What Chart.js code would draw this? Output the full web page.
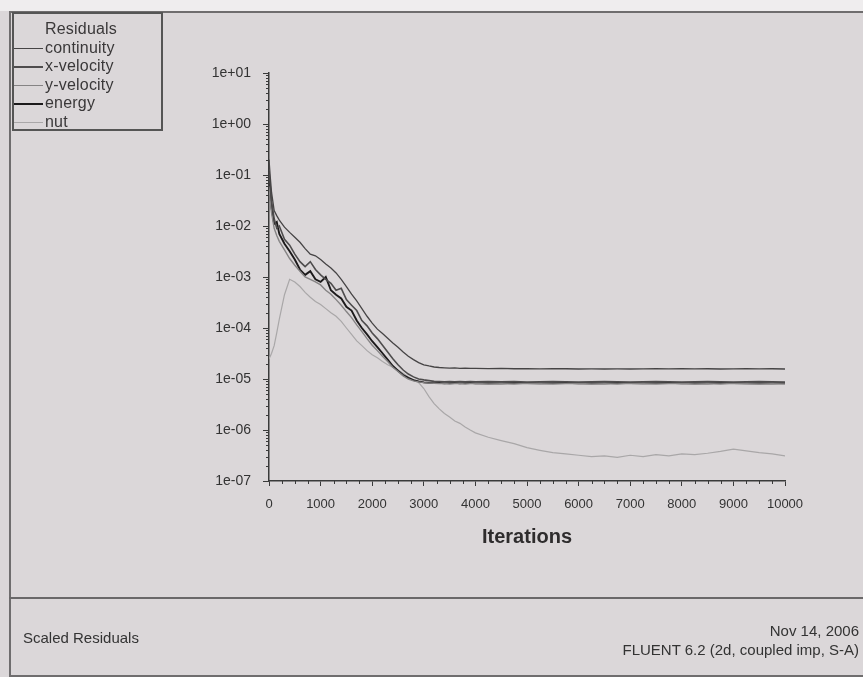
<!DOCTYPE html>
<html>
<head>
<meta charset="utf-8">
<title>Scaled Residuals</title>
<script src="https://cdn.jsdelivr.net/npm/chart.js@4.4.1/dist/chart.umd.min.js"></script>
<style>
  html, body { margin: 0; padding: 0; }
  body { width: 863px; height: 677px; overflow: hidden; background: #dbd7d9;
         font-family: "Liberation Sans", Arial, sans-serif; color: #333; }
  #page { position: relative; width: 863px; height: 677px; }
  #topStrip { position: absolute; left: 0; top: 0; width: 863px; height: 11px; background: #efedee; }
  #mainFrame { position: absolute; left: 9px; top: 11px; width: 854px; height: 666px;
               border-top: 2px solid #6f6d6e; border-left: 2px solid #6f6d6e;
               border-bottom: 2px solid #6f6d6e; box-sizing: border-box; }
  #divider { position: absolute; left: 9px; top: 597px; width: 854px; height: 2px; background: #6a6869; }
  canvas { position: absolute; left: 0; top: 0; }
  #legend { position: absolute; left: 12px; top: 12px; width: 151px; height: 119px;
            border: 2px solid #555; box-sizing: border-box; font-size: 16px; line-height: 18px;
            letter-spacing: 0.2px; color: #3a3839; }
  #legend .title { position: absolute; left: 31px; top: 6px; white-space: nowrap; }
  #legend .row { position: absolute; left: 0; width: 140px; height: 18px; }
  #legend .row span.ln { position: absolute; left: 0; top: 9px; width: 29px; height: 1.5px; }
  #legend .row span.tx { position: absolute; left: 31px; top: 0; white-space: nowrap; }
  #xTitle { position: absolute; left: 377px; width: 300px; top: 525px; text-align: center;
            font-weight: bold; font-size: 20px; color: #2e2c2d; }
  .foot { position: absolute; font-size: 15px; line-height: 18px; color: #333; white-space: nowrap; }
</style>
</head>
<body>
<div id="page">
  <div id="topStrip"></div>
  <div id="mainFrame"></div>
  <div id="divider"></div>
  <canvas id="residualsChart" width="863" height="677"></canvas>
  <div id="legend"><div class="title">Residuals</div></div>
  <div id="xTitle">Iterations</div>
  <div class="foot" style="left:23px; top:629px;">Scaled Residuals</div>
  <div class="foot" style="right:4px; top:622px; text-align:right;">Nov 14, 2006</div>
  <div class="foot" style="right:4px; top:641px; text-align:right;">FLUENT 6.2 (2d, coupled imp, S-A)</div>
</div>
<script>
// iteration numbers the residuals were read at
const iterations = [
  0, 25, 50, 100, 150, 200, 300, 400, 500, 600,
  700, 800, 900, 1000, 1100, 1200, 1300, 1400, 1500, 1600,
  1700, 1800, 1900, 2000, 2100, 2200, 2300, 2400, 2500, 2600,
  2700, 2800, 2900, 3000, 3100, 3200, 3300, 3400, 3500, 3600,
  3700, 3800, 3900, 4000, 4250, 4500, 4750, 5000, 5250, 5500,
  5750, 6000, 6250, 6500, 6750, 7000, 7250, 7500, 7750, 8000,
  8250, 8500, 8750, 9000, 9250, 9500, 9750, 10000
];

const continuity = [
  2.0e-1, 9.0e-2, 4.5e-2, 2.0e-2, 1.6e-2, 1.3e-2, 9.5e-3, 7.5e-3, 6.0e-3, 4.8e-3,
  3.6e-3, 2.8e-3, 2.6e-3, 2.2e-3, 1.8e-3, 1.5e-3, 1.2e-3, 9.0e-4, 6.5e-4, 4.6e-4,
  3.4e-4, 2.4e-4, 1.7e-4, 1.25e-4, 9.5e-5, 7.8e-5, 6.3e-5, 5.1e-5, 4.2e-5, 3.4e-5,
  2.8e-5, 2.4e-5, 2.1e-5, 1.9e-5, 1.8e-5, 1.72e-5, 1.68e-5, 1.66e-5, 1.64e-5, 1.65e-5,
  1.62e-5, 1.63e-5, 1.61e-5, 1.62e-5, 1.6e-5, 1.61e-5, 1.59e-5, 1.6e-5, 1.58e-5, 1.6e-5,
  1.59e-5, 1.57e-5, 1.58e-5, 1.57e-5, 1.58e-5, 1.57e-5, 1.58e-5, 1.59e-5, 1.58e-5, 1.6e-5,
  1.58e-5, 1.59e-5, 1.57e-5, 1.58e-5, 1.6e-5, 1.58e-5, 1.59e-5, 1.57e-5
];

const xVelocity = [
  1.2e-1, 6.0e-2, 3.0e-2, 1.4e-2, 9.0e-3, 1.0e-2, 5.5e-3, 4.2e-3, 2.8e-3, 2.0e-3,
  1.6e-3, 2.0e-3, 1.4e-3, 1.1e-3, 9.0e-4, 7.5e-4, 5.5e-4, 6.0e-4, 3.6e-4, 2.8e-4,
  2.2e-4, 1.4e-4, 1.1e-4, 8.0e-5, 6.2e-5, 4.6e-5, 3.4e-5, 2.5e-5, 1.9e-5, 1.5e-5,
  1.25e-5, 1.1e-5, 1.0e-5, 9.6e-6, 9.3e-6, 9.0e-6, 8.9e-6, 8.8e-6, 8.9e-6, 8.8e-6,
  8.9e-6, 8.8e-6, 8.9e-6, 8.8e-6, 8.9e-6, 8.8e-6, 8.9e-6, 8.7e-6, 8.8e-6, 8.9e-6,
  8.8e-6, 8.7e-6, 8.8e-6, 8.9e-6, 8.8e-6, 8.7e-6, 8.8e-6, 8.9e-6, 8.8e-6, 8.7e-6,
  8.8e-6, 8.9e-6, 8.8e-6, 8.7e-6, 8.8e-6, 8.9e-6, 8.8e-6, 8.7e-6
];

const yVelocity = [
  6.0e-2, 3.0e-2, 1.8e-2, 9.0e-3, 6.5e-3, 5.0e-3, 3.4e-3, 2.3e-3, 1.7e-3, 1.3e-3,
  1.0e-3, 9.0e-4, 8.0e-4, 7.0e-4, 5.5e-4, 4.6e-4, 3.6e-4, 2.8e-4, 2.1e-4, 1.6e-4,
  1.15e-4, 8.5e-5, 6.2e-5, 4.6e-5, 3.6e-5, 2.8e-5, 2.2e-5, 1.7e-5, 1.4e-5, 1.15e-5,
  1.0e-5, 9.2e-6, 8.8e-6, 8.5e-6, 8.3e-6, 8.2e-6, 8.1e-6, 8.2e-6, 8.0e-6, 8.1e-6,
  8.2e-6, 8.0e-6, 8.1e-6, 8.2e-6, 8.0e-6, 8.1e-6, 8.0e-6, 8.2e-6, 8.1e-6, 8.0e-6,
  8.1e-6, 8.2e-6, 8.0e-6, 8.1e-6, 8.0e-6, 8.2e-6, 8.1e-6, 8.0e-6, 8.1e-6, 8.2e-6,
  8.0e-6, 8.1e-6, 8.0e-6, 8.2e-6, 8.1e-6, 8.0e-6, 8.1e-6, 8.0e-6
];

const energy = [
  8.0e-2, 4.0e-2, 2.2e-2, 1.1e-2, 1.2e-2, 7.0e-3, 4.5e-3, 3.2e-3, 2.2e-3, 1.4e-3,
  1.1e-3, 1.3e-3, 9.0e-4, 8.0e-4, 1.0e-3, 5.5e-4, 4.5e-4, 3.8e-4, 2.6e-4, 2.2e-4,
  1.4e-4, 1.0e-4, 7.5e-5, 5.5e-5, 4.2e-5, 3.2e-5, 2.4e-5, 1.8e-5, 1.45e-5, 1.2e-5,
  1.05e-5, 9.5e-6, 9.0e-6, 8.6e-6, 8.4e-6, 8.3e-6, 8.4e-6, 8.2e-6, 8.3e-6, 8.4e-6,
  8.2e-6, 8.3e-6, 8.4e-6, 8.2e-6, 8.3e-6, 8.2e-6, 8.4e-6, 8.3e-6, 8.2e-6, 8.3e-6,
  8.4e-6, 8.2e-6, 8.3e-6, 8.2e-6, 8.4e-6, 8.3e-6, 8.2e-6, 8.3e-6, 8.4e-6, 8.2e-6,
  8.3e-6, 8.2e-6, 8.4e-6, 8.3e-6, 8.2e-6, 8.3e-6, 8.2e-6, 8.3e-6
];

const nut = [
  2.5e-5, 2.8e-5, 3.2e-5, 4.5e-5, 8.0e-5, 1.5e-4, 4.5e-4, 9.0e-4, 8.0e-4, 6.5e-4,
  5.0e-4, 4.0e-4, 3.3e-4, 2.9e-4, 2.4e-4, 2.0e-4, 1.7e-4, 1.35e-4, 1.0e-4, 7.5e-5,
  5.6e-5, 4.5e-5, 3.6e-5, 3.0e-5, 2.6e-5, 2.2e-5, 1.9e-5, 1.7e-5, 1.5e-5, 1.3e-5,
  1.1e-5, 9.5e-6, 8.5e-6, 6.5e-6, 4.5e-6, 3.3e-6, 2.6e-6, 2.1e-6, 1.8e-6, 1.5e-6,
  1.35e-6, 1.15e-6, 1.0e-6, 8.8e-7, 7.2e-7, 6.2e-7, 5.4e-7, 4.5e-7, 4.0e-7, 3.6e-7,
  3.4e-7, 3.2e-7, 3.0e-7, 3.1e-7, 2.9e-7, 3.2e-7, 3.0e-7, 3.3e-7, 3.1e-7, 3.4e-7,
  3.3e-7, 3.5e-7, 3.8e-7, 4.2e-7, 3.9e-7, 3.6e-7, 3.4e-7, 3.1e-7
];

const seriesLabels = ["continuity", "x-velocity", "y-velocity", "energy", "nut"];
const yTicks = [1e1, 1e0, 1e-1, 1e-2, 1e-3, 1e-4, 1e-5, 1e-6, 1e-7];
const xTicks = [0, 1000, 2000, 3000, 4000, 5000, 6000, 7000, 8000, 9000, 10000];

// styling
const lineColors = ["#464445", "#4e4c4d", "#858384", "#1c1a1b", "#a9a7a8"];
const lineWidths = [1.3, 1.6, 1.4, 1.9, 1.2];
const axisColor = "#3a3a3a";

const allValues = [continuity, xVelocity, yVelocity, energy, nut];

const datasets = seriesLabels.map((label, i) => ({
    label: label,
    data: iterations.map((it, k) => ({ x: it, y: allValues[i][k] })),
    borderColor: lineColors[i],
    borderWidth: lineWidths[i],
    pointRadius: 0,
    tension: 0,
    fill: false
}));

// legend box, top-left, like the FLUENT window
const legendBox = document.getElementById("legend");
seriesLabels.forEach((label, i) => {
    const row = document.createElement("div");
    row.className = "row";
    row.style.top = (24.5 + i * 18.6) + "px";
    row.innerHTML = `<span class="ln" style="background:${lineColors[i]}"></span><span class="tx">${label}</span>`;
    legendBox.appendChild(row);
});

function expLabel(v) {
    const e = Math.round(Math.log10(v));
    return "1e" + (e >= 0 ? "+" : "-") + String(Math.abs(e)).padStart(2, "0");
}

// small minor ticks on both axes
const minorTicks = {
    id: "minorTicks",
    afterDraw(chart) {
        const ctx = chart.ctx;
        const xs = chart.scales.x, ys = chart.scales.y;
        const left = chart.chartArea.left, bottom = chart.chartArea.bottom;
        ctx.save();
        ctx.strokeStyle = axisColor;
        ctx.lineWidth = 1;
        ctx.beginPath();
        for (let e = -7; e < 1; e++) {
            for (let m = 2; m <= 9; m++) {
                const py = Math.round(ys.getPixelForValue(m * Math.pow(10, e))) + 0.5;
                ctx.moveTo(left - 3, py);
                ctx.lineTo(left, py);
            }
        }
        for (let it = 250; it < 10000; it += 250) {
            if (it % 1000 === 0) continue;
            const px = Math.round(xs.getPixelForValue(it)) + 0.5;
            ctx.moveTo(px, bottom);
            ctx.lineTo(px, bottom + 3);
        }
        ctx.stroke();
        ctx.restore();
    }
};

new Chart(document.getElementById("residualsChart"), {
    type: "line",
    data: { datasets },
    options: {
        responsive: false,
        animation: false,
        layout: { padding: { left: 0, right: 78, top: 73, bottom: 0 } },
        plugins: { legend: { display: false }, tooltip: { enabled: false } },
        scales: {
            x: {
                type: "linear",
                min: 0,
                max: 10000,
                afterBuildTicks: scale => { scale.ticks = xTicks.map(v => ({ value: v })); },
                afterFit: scale => { scale.height = 196; },
                ticks: { color: "#333", padding: 11, maxRotation: 0, callback: v => String(v),
                         font: { family: "Liberation Sans", size: 13 } },
                grid: { drawOnChartArea: false, tickLength: 5, color: axisColor },
                border: { color: axisColor, width: 1.5 }
            },
            y: {
                type: "logarithmic",
                min: 1e-7,
                max: 1e1,
                afterBuildTicks: scale => { scale.ticks = yTicks.map(v => ({ value: v })); },
                afterFit: scale => { scale.width = 269; },
                ticks: { color: "#333", padding: 12, callback: v => expLabel(v),
                         font: { family: "Liberation Sans", size: 14 } },
                grid: { drawOnChartArea: false, tickLength: 6, color: axisColor },
                border: { color: axisColor, width: 1.5 }
            }
        }
    },
    plugins: [minorTicks]
});
</script>
</body>
</html>
